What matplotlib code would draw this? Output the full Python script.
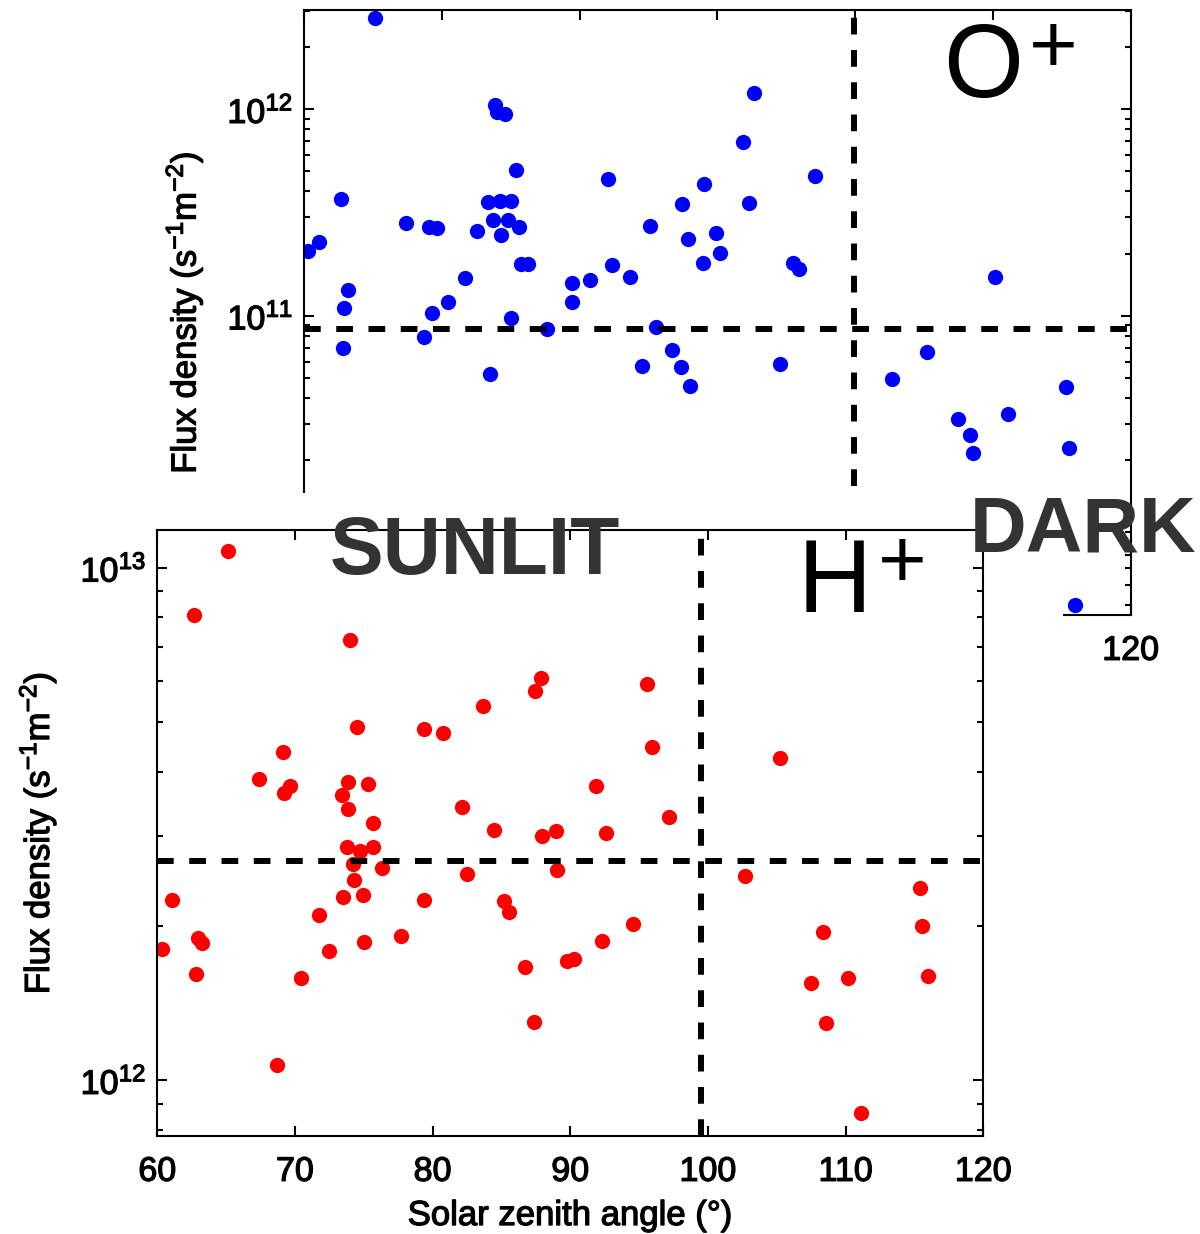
import matplotlib
matplotlib.use('Agg')
import matplotlib.pyplot as plt
import matplotlib.patheffects as pe
from matplotlib.patches import Rectangle
from matplotlib.ticker import LogLocator, LogFormatterMathtext, NullFormatter

plt.rcParams.update({
    'font.family': ['Liberation Sans', 'DejaVu Sans'],
    'mathtext.fontset': 'custom',
    'mathtext.rm': 'Liberation Sans',
    'mathtext.it': 'Liberation Sans:italic',
    'mathtext.bf': 'Liberation Sans:bold',
    'mathtext.default': 'regular',
    'axes.linewidth': 1.5,
})

# ---------------- data ----------------
# O+ panel (top): solar zenith angle (deg) and flux density (s^-1 m^-2)
sza_o = [65.15, 73.86, 73.98, 74.59, 75.36, 62.69, 73.37, 74.22, 75.02, 67.40,
         69.09, 69.63, 73.69, 74.78, 75.62, 72.53, 74.27, 61.11, 60.31, 75.73,
         76.28, 71.68, 63.21, 62.92, 70.47, 69.27, 75.02, 77.61, 68.71, 62.81,
         73.50, 79.47, 79.47, 80.75, 82.06, 82.35,
         92.65, 91.85, 89.05, 97.10, 87.43, 92.28, 85.13, 87.90, 89.88, 90.22,
         88.93, 83.68, 95.52, 95.90, 85.55, 86.71, 84.51, 87.35, 87.98, 94.53,
         110.17, 105.22, 102.67, 115.34, 107.47, 111.09, 108.34, 108.54, 115.51,
         115.95]
flux_o = [2.77e12, 1.05e12, 9.73e11, 9.46e11, 5.08e11, 3.67e11, 3.57e11, 3.60e11,
          3.60e11, 2.83e11, 2.70e11, 2.66e11, 2.91e11, 2.91e11, 2.70e11, 2.58e11,
          2.45e11, 2.27e11, 2.05e11, 1.78e11, 1.78e11, 1.52e11, 1.33e11, 1.09e11,
          1.17e11, 1.03e11, 9.82e10, 8.62e10, 7.94e10, 6.98e10, 5.23e10, 1.45e11,
          1.17e11, 1.49e11, 4.58e11, 1.77e11,
          1.20e12, 6.92e11, 4.36e11, 4.75e11, 3.47e11, 3.53e11, 2.73e11, 2.35e11,
          2.51e11, 2.02e11, 1.81e11, 1.54e11, 1.81e11, 1.68e11, 8.88e10, 6.85e10,
          5.75e10, 5.63e10, 4.59e10, 5.86e10,
          1.55e11, 6.72e10, 4.96e10, 4.55e10, 3.16e10, 3.36e10, 2.64e10, 2.17e10,
          2.29e10, 4.0e9]

# H+ panel (bottom)
sza_h = [65.11, 62.69, 74.00, 83.67, 74.48, 79.39, 80.73, 69.11, 67.41, 69.64,
         69.20, 73.83, 75.32, 73.39, 73.83, 82.11, 75.69, 84.47, 73.76, 74.72,
         75.64, 74.23, 76.30, 82.47, 74.28, 61.09, 73.46, 74.96, 79.39, 85.15,
         71.74, 77.70, 75.03, 72.49, 60.32, 62.93, 63.22, 62.81, 70.44, 68.67,
         87.87, 87.43, 95.54, 95.90, 105.24, 91.86, 97.14, 88.95, 87.94, 92.59,
         89.05, 102.68, 115.39, 85.53, 94.52, 115.53, 108.33, 92.28, 86.73, 89.75,
         90.24, 107.49, 110.18, 116.01, 87.35, 108.55, 111.15]
flux_h = [1.08e13, 8.09e12, 7.23e12, 5.38e12, 4.88e12, 4.84e12, 4.75e12, 4.37e12,
          3.87e12, 3.75e12, 3.63e12, 3.81e12, 3.78e12, 3.60e12, 3.38e12, 3.41e12,
          3.18e12, 3.08e12, 2.85e12, 2.80e12, 2.85e12, 2.64e12, 2.60e12, 2.52e12,
          2.46e12, 2.25e12, 2.28e12, 2.30e12, 2.25e12, 2.24e12, 2.10e12, 1.91e12,
          1.86e12, 1.79e12, 1.80e12, 1.89e12, 1.85e12, 1.61e12, 1.58e12, 1.07e12,
          6.08e12, 5.74e12, 5.92e12, 4.46e12, 4.25e12, 3.75e12, 3.26e12, 3.07e12,
          2.99e12, 3.03e12, 2.57e12, 2.50e12, 2.37e12, 2.13e12, 2.02e12, 2.00e12,
          1.95e12, 1.87e12, 1.66e12, 1.71e12, 1.72e12, 1.55e12, 1.58e12, 1.60e12,
          1.30e12, 1.29e12, 8.63e11]

o_threshold = 8.6e10
o_terminator = 99.9
h_threshold = 2.68e12
h_terminator = 99.5

xticks = [60, 70, 80, 90, 100, 110, 120]
ylabel = 'Flux density (s$^{-1}$m$^{-2}$)'
xlabel = 'Solar zenith angle (°)'

# ---------------- layout ----------------
W, H = 1200, 1234
fig = plt.figure(figsize=(W / 100, H / 100), dpi=100)
heavy = [pe.withStroke(linewidth=0.9, foreground='black')]


def fbox(l, t, r, b):
    return [l / W, 1 - b / H, (r - l) / W, (b - t) / H]


def style(ax, ylim):
    ax.set_yscale('log')
    ax.set_xlim(60, 120)
    ax.set_ylim(*ylim)
    ax.set_xticks(xticks)
    ax.yaxis.set_major_locator(LogLocator(base=10))
    ax.yaxis.set_minor_locator(LogLocator(base=10, subs=range(2, 10), numticks=20))
    ax.yaxis.set_minor_formatter(NullFormatter())
    ax.yaxis.set_major_formatter(LogFormatterMathtext())
    ax.tick_params(which='both', direction='in', top=True, right=True,
                   width=1.5, labelsize=24.5)
    ax.tick_params(which='major', length=7)
    ax.tick_params(which='minor', length=4.5)
    ax.tick_params(axis='x', pad=15)
    ax.tick_params(axis='y', pad=8)
    ax.set_ylabel(ylabel, fontsize=25, path_effects=heavy)
    ax.yaxis.set_label_coords(-0.12, 0.5)
    for lab in ax.get_xticklabels() + ax.get_yticklabels():
        lab.set_path_effects(heavy)


ax_o = fig.add_axes(fbox(304, 10, 1130.7, 615), zorder=1)
style(ax_o, (3.57e9, 3.02e12))
ax_o.plot(sza_o, flux_o, 'o', color='#0000ff', ms=11, mec='none', zorder=2)
ax_o.axhline(o_threshold, color='k', lw=4.3, ls=(0, (2.8, 2.6)), zorder=3)
ax_o.axvline(o_terminator, color='k', lw=4.3, ls=(0, (2.8, 2.6)), zorder=3)

cover = Rectangle((0, 0), 1063 / W, 1 - 493 / H, transform=fig.transFigure,
                  facecolor='white', edgecolor='none', zorder=2)
fig.add_artist(cover)

ax_h = fig.add_axes(fbox(157.3, 530, 983.3, 1136), zorder=3)
style(ax_h, (7.78e11, 1.185e13))
ax_h.plot(sza_h, flux_h, 'o', color='#ff0000', ms=11, mec='none', zorder=2)
ax_h.axhline(h_threshold, color='k', lw=4.3, ls=(0, (2.8, 2.6)), zorder=3)
ax_h.axvline(h_terminator, color='k', lw=4.3, ls=(0, (2.8, 2.6)), zorder=3)
ax_h.set_xlabel(xlabel, fontsize=25, path_effects=heavy)
ax_h.xaxis.set_label_coords(0.5, -0.104)

# ---------------- annotations ----------------
fig.text(983.5 / W, 1 - 96.5 / H, 'O', fontsize=74, ha='center', va='baseline', zorder=5)
fig.text(1053.5 / W, 1 - 72 / H, '+', fontsize=60, ha='center', va='baseline', zorder=5)
fig.text(835 / W, 1 - 612 / H, 'H', fontsize=74, ha='center', va='baseline', zorder=5)
fig.text(902 / W, 1 - 587.5 / H, '+', fontsize=60, ha='center', va='baseline', zorder=5)
fig.text(475 / W, 1 - 574 / H, 'SUNLIT', fontsize=58, weight='bold', color='#333333',
         ha='center', va='baseline', zorder=6)
fig.text(970 / W, 1 - 552 / H, 'DARK', fontsize=56.5, weight='bold', color='#333333',
         ha='left', va='baseline', zorder=6)

fig.savefig('out.png', dpi=100)
